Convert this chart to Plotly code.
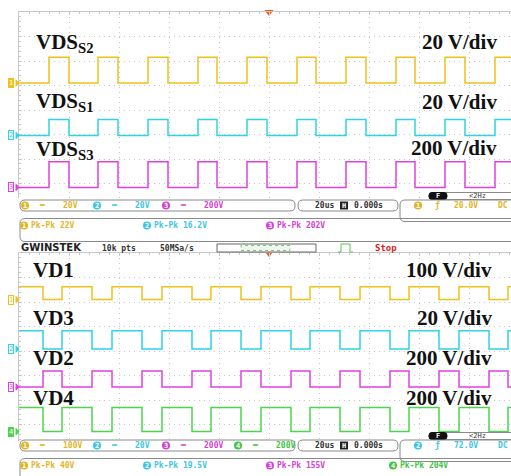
import plotly.graph_objects as go

# ---------------- data ----------------
US_PER_DIV = 20
# top screen: switch drain-source voltages (all channels low at t=0)
top_rise_us = [12.0, 31.6, 51.6, 71.6, 91.2, 111.2, 130.8, 150.8, 170.4, 190.4]
top_fall_us = [20.0, 39.6, 59.6, 79.2, 99.2, 118.8, 138.8, 158.4, 178.4]
top_names = ["VDS_S2", "VDS_S1", "VDS_S3"]
top_volts_per_div = [20, 20, 200]
top_offset_div = [1.10, -1.04, -3.16]
top_high_V = [21, 13, 210]
top_start_high = [False, False, False]
top_scale_labels = ["20 V/div", "20 V/div", "200 V/div"]

# bottom screen: diode voltages
bot_fall_us = [9.6, 29.2, 49.2, 69.2, 88.8, 108.8, 128.4, 148.4, 168.0, 188.0]
bot_rise_us = [17.2, 37.2, 57.2, 76.8, 96.8, 116.4, 136.4, 156.0, 176.0, 195.6]
bot_names = ["VD1", "VD3", "VD2", "VD4"]
bot_volts_per_div = [100, 20, 200, 200]
bot_offset_div = [2.10, 0.08, -1.47, -3.29]
bot_high_V = [52, 15, 130, 196]
bot_start_high = [True, True, False, True]
bot_scale_labels = ["100 V/div", "20 V/div", "200 V/div", "200 V/div"]

top_coupling = ["20V", "20V", "200V"]
top_pkpk = ["22V", "16.2V", "202V"]
bot_coupling = ["100V", "20V", "200V", "200V"]
bot_pkpk = ["40V", "19.5V", "155V", "204V"]

CH_COLORS = ["#EEC21A", "#2ED4E6", "#E040E0", "#4CD44C"]
TXT_COLORS = ["#E2B526", "#3CC6E6", "#D442D4", "#44C444"]

W, H = 511, 476
X_END = (W - 19) / 2.5  # visible time span in us


def px(p):
    return p / W


def py(p):
    return 1 - p / H


def square(edges_up, edges_down, start_high, high, off, vdiv):
    events = sorted([(t, 1) for t in edges_up] + [(t, 0) for t in edges_down])
    state = 1 if start_high else 0
    xs, ys = [0], [off + state * high / vdiv]
    for t, s in events:
        xs.append(t)
        ys.append(off + s * high / vdiv)
    xs.append(X_END)
    ys.append(ys[-1])
    return xs, ys


fig = go.Figure()

# top traces
for i in range(3):
    xs, ys = square(top_rise_us, top_fall_us, top_start_high[i], top_high_V[i],
                    top_offset_div[i], top_volts_per_div[i])
    fig.add_trace(go.Scatter(x=xs, y=ys, mode="lines", line=dict(color=CH_COLORS[i], width=1.5, shape="hv"),
                             xaxis="x", yaxis="y", showlegend=False, hoverinfo="skip"))

# bottom traces
for i in range(4):
    if bot_start_high[i]:
        xs, ys = square(bot_rise_us, bot_fall_us, True, bot_high_V[i], bot_offset_div[i], bot_volts_per_div[i])
    else:
        xs, ys = square(bot_fall_us, bot_rise_us, False, bot_high_V[i], bot_offset_div[i], bot_volts_per_div[i])
    fig.add_trace(go.Scatter(x=xs, y=ys, mode="lines", line=dict(color=CH_COLORS[i], width=1.5, shape="hv"),
                             xaxis="x2", yaxis="y2", showlegend=False, hoverinfo="skip"))

# trigger position markers
for xa, ya in (("x", "y"), ("x2", "y2")):
    fig.add_trace(go.Scatter(x=[5 * US_PER_DIV], y=[4], mode="markers", cliponaxis=False,
                             marker=dict(symbol="triangle-down", size=8, color="#F05A1E"),
                             xaxis=xa, yaxis=ya, showlegend=False, hoverinfo="skip"))

GRID = "#c8c8c8"
top_dom = [py(198), py(12)]
bot_dom = [py(441), py(253)]


def xax(anchor):
    return dict(domain=[px(19), 1], range=[0, X_END], anchor=anchor, side="top",
                showline=True, linecolor=GRID, linewidth=1, mirror=False,
                ticks="inside", ticklen=3, tickcolor=GRID, dtick=US_PER_DIV, tick0=0,
                minor=dict(dtick=4, ticks="inside", ticklen=2, tickcolor=GRID, showgrid=False),
                showticklabels=False, showgrid=True, gridcolor=GRID, griddash="1px,4px",
                gridwidth=1, zeroline=False, fixedrange=True)


def yax(anchor, dom, lo):
    return dict(domain=dom, range=[lo, 4], anchor=anchor,
                showline=True, linecolor=GRID, linewidth=1,
                ticks="inside", ticklen=3, tickcolor=GRID, dtick=1, tick0=0,
                minor=dict(dtick=0.2, ticks="inside", ticklen=2, tickcolor=GRID, showgrid=False),
                showticklabels=False, showgrid=True, gridcolor=GRID, griddash="1px,4px",
                gridwidth=1, zeroline=False, fixedrange=True)


fig.update_layout(
    width=W, height=H, autosize=False,
    margin=dict(l=0, r=0, t=0, b=0, pad=0),
    paper_bgcolor="white", plot_bgcolor="white",
    xaxis=xax("y"), yaxis=yax("x", top_dom, -(198 - 110) / 24.5),
    xaxis2=xax("y2"), yaxis2=yax("x2", bot_dom, -(441 - 351) / 24.5),
)

ann = []
shapes = []

SERIF = "Liberation Serif"
MONO = "DejaVu Sans Mono"

# waveform labels
top_label_y = [43, 102, 150]
top_scale_y = [42, 102, 148]
for i in range(3):
    base, sub = top_names[i].split("_")
    ann.append(dict(x=px(34), y=py(top_label_y[i]), xref="paper", yref="paper", xanchor="left", yanchor="middle",
                    text=f"{base}<sub>{sub}</sub>", showarrow=False,
                    font=dict(family=SERIF, size=21, color="#111", weight="bold")))
    ann.append(dict(x=px(499), y=py(top_scale_y[i]), xref="paper", yref="paper", xanchor="right", yanchor="middle",
                    text=top_scale_labels[i], showarrow=False,
                    font=dict(family=SERIF, size=21, color="#111", weight="bold")))

bot_label_y = [270, 318, 358, 398]
for i in range(4):
    ann.append(dict(x=px(31), y=py(bot_label_y[i]), xref="paper", yref="paper", xanchor="left", yanchor="middle",
                    text=bot_names[i], showarrow=False,
                    font=dict(family=SERIF, size=21, color="#111", weight="bold")))
    ann.append(dict(x=px(494), y=py(bot_label_y[i]), xref="paper", yref="paper", xanchor="right", yanchor="middle",
                    text=bot_scale_labels[i], showarrow=False,
                    font=dict(family=SERIF, size=21, color="#111", weight="bold")))


# ground markers at the left edge
def gnd_tag(num, yaxis_ref, off, color, filled):
    ann.append(dict(x=px(11), y=off, xref="paper", yref=yaxis_ref, xanchor="center", yanchor="middle",
                    text=str(num), showarrow=False,
                    font=dict(family=MONO, size=7, color="white" if filled else color),
                    bgcolor=color if filled else "white", bordercolor=color, borderwidth=1, borderpad=0))
    shapes.append(dict(type="path", xref="paper", yref=yaxis_ref,
                       path=f"M {px(16)} {off + 0.13} L {px(19)} {off} L {px(16)} {off - 0.13} Z",
                       fillcolor=color, line=dict(color=color, width=1)))


gnd_tag(1, "y", top_offset_div[0], CH_COLORS[0], True)
gnd_tag(2, "y", top_offset_div[1], CH_COLORS[1], False)
gnd_tag(3, "y", top_offset_div[2], CH_COLORS[2], False)
gnd_tag(1, "y2", bot_offset_div[0], CH_COLORS[0], False)
gnd_tag(2, "y2", bot_offset_div[1], CH_COLORS[1], False)
gnd_tag(3, "y2", bot_offset_div[2], CH_COLORS[2], False)
gnd_tag(4, "y2", bot_offset_div[3], CH_COLORS[3], True)


def rbox(x0, y0, x1, y1, r=3, color="#8a8a8a", fill=None, width=1):
    p = (f"M {px(x0 + r)} {py(y0)} L {px(x1 - r)} {py(y0)} Q {px(x1)} {py(y0)} {px(x1)} {py(y0 + r)} "
         f"L {px(x1)} {py(y1 - r)} Q {px(x1)} {py(y1)} {px(x1 - r)} {py(y1)} "
         f"L {px(x0 + r)} {py(y1)} Q {px(x0)} {py(y1)} {px(x0)} {py(y1 - r)} "
         f"L {px(x0)} {py(y0 + r)} Q {px(x0)} {py(y0)} {px(x0 + r)} {py(y0)} Z")
    shapes.append(dict(type="path", xref="paper", yref="paper", path=p,
                       line=dict(color=color, width=width), fillcolor=fill if fill else "rgba(0,0,0,0)"))


def txt(x, y, s, color, size=8, bold=True, family=MONO, anchor="left"):
    ann.append(dict(x=px(x), y=py(y), xref="paper", yref="paper", xanchor=anchor, yanchor="middle",
                    text=s, showarrow=False,
                    font=dict(family=family, size=size, color=color, weight="bold" if bold else "normal")))


def icon(x, y, num, color):
    shapes.append(dict(type="circle", xref="paper", yref="paper",
                       x0=px(x - 4), x1=px(x + 4), y0=py(y + 4), y1=py(y - 4),
                       fillcolor=color, line=dict(color=color, width=0)))
    txt(x, y, str(num), "white", size=7, anchor="center")


def status(y_row, couplings, pkpks, trig_ch, trig_level):
    # F / <2Hz box
    rbox(429, y_row - 13, 525, y_row - 6, r=3)
    rbox(429, y_row - 13, 447, y_row - 6, r=3, color="#111", fill="#111")
    txt(438, y_row - 9.5, "F", "white", size=7, anchor="center")
    txt(467, y_row - 9.5, "<2Hz", "#333", size=7, bold=False)
    # channel settings
    rbox(20, y_row - 5.5, 295, y_row + 5.5, r=5)
    cx = [25, 97, 166, 238]
    for i, c in enumerate(couplings):
        icon(cx[i], y_row, i + 1, TXT_COLORS[i])
        txt(cx[i] + 12, y_row, "═", TXT_COLORS[i], size=8)
        txt(cx[i] + 36, y_row, c, TXT_COLORS[i], size=8)
    # timebase
    rbox(298, y_row - 5.5, 398, y_row + 5.5, r=5)
    txt(313, y_row, "20us", "#333", size=8)
    shapes.append(dict(type="rect", xref="paper", yref="paper", x0=px(340), x1=px(348),
                       y0=py(y_row + 4), y1=py(y_row - 4), fillcolor="#222", line=dict(width=0)))
    txt(344, y_row, "H", "white", size=7, anchor="center")
    txt(352, y_row, "0.000s", "#333", size=8)
    # trigger
    rbox(400, y_row - 5.5, 530, y_row + 16, r=5)
    icon(418, y_row, trig_ch, TXT_COLORS[trig_ch - 1])
    txt(433, y_row, "ƒ", TXT_COLORS[trig_ch - 1], size=8)
    txt(452, y_row, trig_level, TXT_COLORS[trig_ch - 1], size=8)
    txt(496, y_row, "DC", TXT_COLORS[trig_ch - 1], size=8)
    # pk-pk measurements
    rbox(20, y_row + 13, 530, y_row + 36, r=5)
    mx = [24, 147, 270, 393]
    for i, v in enumerate(pkpks):
        icon(mx[i], y_row + 20, i + 1, TXT_COLORS[i])
        txt(mx[i] + 5, y_row + 20, "Pk-Pk " + v, TXT_COLORS[i], size=8)


status(205.5, top_coupling, top_pkpk, 1, "20.0V")
status(445.5, bot_coupling, bot_pkpk, 2, "72.0V")

# header row between the two screens
txt(19, 247.5, "GWINSTEK", "#222", size=10, bold=True, family="DejaVu Sans")
txt(100, 248, "10k pts", "#333", size=8)
txt(158, 248, "50MSa/s", "#333", size=8)
shapes.append(dict(type="rect", xref="paper", yref="paper", x0=px(217), x1=px(316), y0=py(252), y1=py(244),
                   line=dict(color="#666", width=1), fillcolor="white"))
shapes.append(dict(type="rect", xref="paper", yref="paper", x0=px(241), x1=px(290), y0=py(250.5), y1=py(245.5),
                   line=dict(color="#7CC47C", width=1, dash="dot"), fillcolor="#eef7ee"))
shapes.append(dict(type="path", xref="paper", yref="paper",
                   path=f"M {px(338)} {py(252)} L {px(341)} {py(252)} L {px(341)} {py(244)} L {px(350)} {py(244)} "
                        f"L {px(350)} {py(252)} L {px(353)} {py(252)}",
                   line=dict(color="#55C455", width=1)))
txt(373, 248, "Stop", "#E02020", size=9, bold=True)

fig.update_layout(annotations=ann, shapes=shapes)
fig.write_html("out.html")
